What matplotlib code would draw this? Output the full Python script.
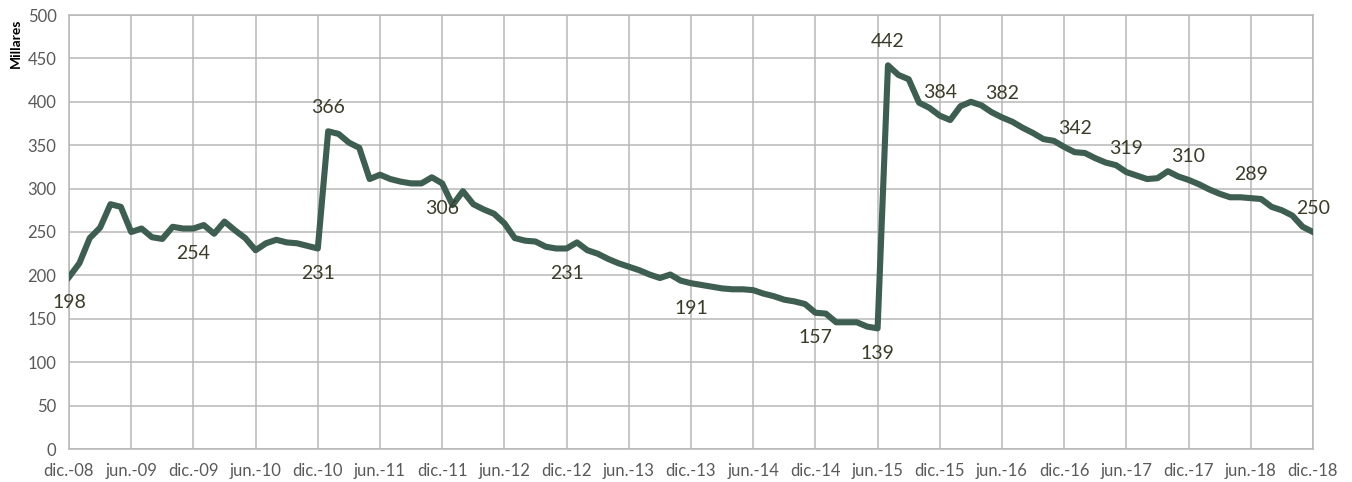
import numpy as np
import matplotlib.pyplot as plt

plt.rcParams['font.family'] = ['Lato', 'DejaVu Sans']

# valores mensuales, dic.-08 a dic.-18 (miles)
valores = [198, 214, 243, 255, 282, 279, 250, 254, 244, 242, 256, 254,
           254, 258, 248, 262, 252, 243, 229, 237, 241, 238, 237, 234,
           231, 366, 363, 353, 347, 311, 316, 311, 308, 306, 306, 313,
           306, 281, 297, 282, 276, 271, 260, 243, 240, 239, 233, 231,
           231, 238, 229, 225, 219, 214, 210, 206, 201, 197, 201, 194,
           191, 189, 187, 185, 184, 184, 183, 179, 176, 172, 170, 167,
           157, 156, 146, 146, 146, 141, 139, 442, 431, 426, 399, 393,
           384, 379, 395, 400, 396, 388, 382, 377, 370, 364, 357, 355,
           348, 342, 341, 335, 330, 327, 319, 315, 311, 312, 320, 314,
           310, 305, 299, 294, 290, 290, 289, 288, 279, 275, 269, 256,
           250]

etiquetas_x = ['dic.-08', 'jun.-09', 'dic.-09', 'jun.-10', 'dic.-10', 'jun.-11',
               'dic.-11', 'jun.-12', 'dic.-12', 'jun.-13', 'dic.-13', 'jun.-14',
               'dic.-14', 'jun.-15', 'dic.-15', 'jun.-16', 'dic.-16', 'jun.-17',
               'dic.-17', 'jun.-18', 'dic.-18']

# puntos con etiqueta de dato
idx_abajo = [0, 12, 24, 36, 48, 60, 72, 78]
idx_arriba = [25, 79, 84, 90, 97, 102, 108, 114, 120]

x = np.arange(len(valores))

fig = plt.figure(figsize=(13.52, 4.82), dpi=100)
ax = fig.add_axes([69/1352, 1-449/482, (1313-69)/1352, (449-15)/482])

ax.plot(x, valores, color='#3e5e52', lw=4.4, solid_joinstyle='round', zorder=3)

for i in idx_abajo:
    ax.annotate(str(valores[i]), (x[i], valores[i]), xytext=(0, -18),
                textcoords='offset points', ha='center', va='center',
                fontsize=14, color='#3b3b29', zorder=4)
for i in idx_arriba:
    ax.annotate(str(valores[i]), (x[i], valores[i]), xytext=(0, 17),
                textcoords='offset points', ha='center', va='center',
                fontsize=14, color='#3b3b29', zorder=4)

ax.set_xlim(0, 120)
ax.set_ylim(0, 500)
ax.set_xticks(np.arange(0, 121, 6))
ax.set_xticklabels(etiquetas_x)
ax.set_yticks(np.arange(0, 501, 50))
ax.grid(True, color='#b8b8b8', lw=1.1)
ax.set_axisbelow(True)
for s in ax.spines.values():
    s.set_color('#b8b8b8')
    s.set_linewidth(1.1)
ax.tick_params(length=0, labelsize=12, labelcolor='#595959')
ax.tick_params(axis='x', pad=10)
ax.tick_params(axis='y', pad=9)

fig.text(16/1352, 1-19/482, 'Millares', rotation=90, ha='center', va='top',
         fontsize=10, fontweight='bold', color='black')

fig.savefig('out.png', dpi=100)
